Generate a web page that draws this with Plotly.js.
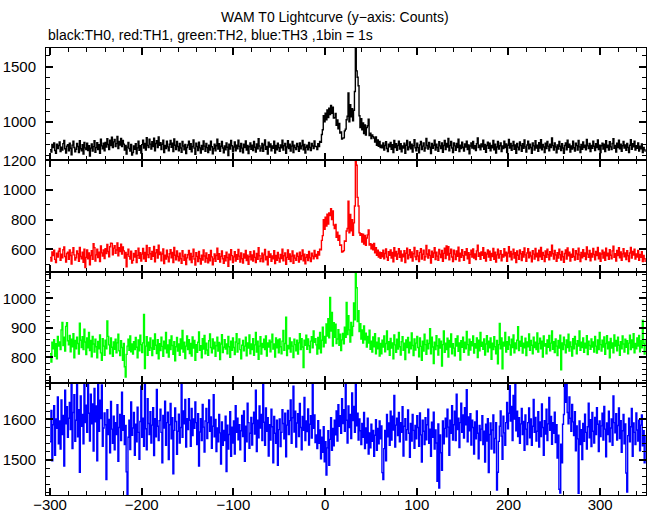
<!DOCTYPE html>
<html>
<head>
<meta charset="utf-8">
<script src="https://cdn.plot.ly/plotly-3.0.1.min.js"></script>
<style>html,body{margin:0;padding:0;background:#fff;}#chart{width:652px;height:515px;}</style>
</head>
<body>
<div id="chart"></div>
<script>
// Bin start time (s) and bin size
var tStart = -300;
var binSize = 1;

// TH0 (black) counts per 1 s bin, t = -300 .. 349
var th0 = [
752,731,798,770,812,744,718,801,763,789,
821,736,775,749,806,835,760,722,784,797,
741,810,765,706,793,828,772,733,755,807,
781,727,832,760,741,797,713,818,768,752,
810,745,788,694,766,804,739,779,832,728,
770,815,753,797,719,846,786,760,811,741,
817,776,851,798,754,838,790,864,772,822,
845,781,806,872,763,825,793,853,779,836,
802,748,790,712,775,818,762,739,799,703,
727,785,755,806,714,768,829,746,788,722,
797,838,766,808,748,859,790,771,846,802,
758,823,780,855,741,807,832,771,866,791,
815,752,800,838,725,789,762,829,777,742,
801,834,773,810,735,849,791,754,825,780,
742,808,767,729,826,785,751,798,716,772,
794,829,755,805,733,781,840,766,709,810,
780,745,820,768,722,790,752,831,784,738,
808,770,726,792,748,829,778,715,763,800,
741,787,847,758,806,737,782,825,767,724,
786,750,812,773,698,802,757,836,787,733,
776,822,741,793,760,838,783,735,807,766,
724,800,771,830,749,789,717,778,812,755,
791,745,825,774,731,804,760,851,785,740,
767,807,737,794,839,756,780,713,819,775,
803,742,786,764,829,722,789,751,811,769,
738,795,768,838,749,787,808,719,776,833,
763,802,740,784,826,725,791,770,752,808,
780,737,812,759,786,834,750,799,722,774,
793,751,818,771,743,808,785,762,831,779,
781,752,806,779,825,818,889,931,1058,1003,
1081,1022,1109,1041,1126,1068,1151,1079,1134,1037,
1040,1078,972,1019,941,988,901,912,847,856,
858,921,937,1021,1053,1262,1004,1158,1049,1121,
1012,1107,1276,1668,1462,1405,1328,1058,951,1031,
932,992,897,974,884,951,968,1026,878,901,
852,884,869,857,821,866,791,839,782,826,771,
793,768,812,749,790,824,762,735,801,778,
817,755,796,726,836,772,805,746,789,829,
758,806,732,785,767,810,719,792,834,751,
776,821,760,800,731,788,842,769,741,811,
770,723,795,826,752,784,813,740,767,852,
789,757,818,775,716,807,764,792,838,748,
801,772,738,823,786,761,812,728,790,835,
753,808,776,853,742,789,827,767,725,813,
786,747,808,770,846,736,792,762,819,773,
739,803,776,829,752,794,714,785,813,767,
826,759,788,745,806,858,771,793,750,804,
777,837,755,799,728,788,819,765,810,741,
790,768,834,750,801,722,776,825,758,787,
813,735,785,763,829,772,803,726,792,845,
766,808,747,787,826,756,795,718,809,775,
751,821,789,738,806,765,839,777,730,794,
828,759,801,771,720,812,786,748,832,767,
791,737,814,766,842,751,798,776,727,810,
762,825,784,741,802,771,857,788,749,812,
776,723,795,757,827,782,744,805,767,718,
789,812,751,837,773,801,730,786,758,828,
769,739,810,788,748,835,777,725,799,756,
822,770,792,750,843,786,761,809,735,790,
764,828,783,744,806,772,839,753,793,725,
787,811,757,802,734,833,771,791,748,824,
777,752,808,851,764,789,731,810,772,838,
760,801,738,787,826,766,795,746,808,772,
727,792,841,755,806,777,829,749,788,764,
812,740,784,759,803,726,772,750,733
];

// TH1 (red)
var th1 = [
546,521,583,558,594,533,512,575,549,588,
606,526,567,543,598,617,552,515,572,582,
533,597,559,502,580,612,563,529,544,590,
571,519,613,552,537,582,513,601,478,546,
597,537,576,497,559,591,534,638,612,522,
563,602,545,581,518,624,577,556,597,538,
605,572,633,586,550,618,642,641,564,609,
625,574,596,644,557,611,585,636,568,617,
590,541,580,483,566,602,553,535,588,508,
526,573,548,592,511,560,609,540,578,522,
568,606,537,580,519,627,564,545,611,571,
533,586,553,620,516,577,598,541,628,565,
582,524,569,603,505,561,535,594,550,517,
571,598,544,580,512,614,561,530,589,552,
523,574,537,506,592,555,526,566,498,543,
564,593,530,572,511,553,601,535,495,578,
553,518,586,538,501,561,529,597,556,514,
577,540,509,564,524,593,550,497,536,569,
520,559,609,533,571,515,553,589,537,506,
557,524,582,545,486,568,530,598,558,512,
550,585,521,565,534,600,555,515,576,537,
508,570,542,593,525,561,499,551,584,530,
563,521,589,546,511,572,534,612,557,518,
538,575,516,563,600,530,552,497,586,546,
570,520,556,537,592,505,559,527,580,541,
514,566,539,601,523,557,576,500,546,597,
534,570,518,555,589,507,561,541,526,575,
553,514,582,531,557,596,524,568,503,546,
564,525,586,543,518,574,555,536,593,552,
566,538,585,562,601,598,661,693,801,735,
817,758,838,771,846,829,874,801,859,764,
741,768,682,716,661,695,628,630,583,586,
592,657,654,724,741,926,712,836,725,801,
696,779,893,1201,1168,951,893,712,695,706,
650,703,636,694,628,677,698,731,630,639,
605,633,598,641,577,612,560,594,549,581,540,
578,551,594,536,572,603,548,526,585,561,
597,541,580,517,612,556,587,533,570,605,
546,589,522,568,550,592,511,574,609,537,
562,598,545,583,521,571,614,551,531,591,
556,518,580,604,535,567,595,528,551,627,
569,541,597,560,508,588,547,576,612,531,
582,555,527,599,568,545,593,520,573,608,
538,624,562,618,530,573,601,549,518,594,
568,532,590,553,615,522,574,546,598,558,
526,584,562,604,536,578,507,566,595,549,
603,541,570,531,590,629,553,576,534,583,
561,611,540,579,521,569,597,548,588,527,
572,552,606,534,582,515,563,601,542,568,
592,523,566,549,604,557,582,519,575,619,
550,587,530,569,601,541,578,511,589,561,
533,597,571,525,584,549,610,563,520,576,
604,543,582,556,516,592,568,535,607,551,
575,525,595,550,614,534,580,560,518,590,
547,601,566,530,584,555,628,571,535,593,
562,520,578,541,601,565,529,586,551,513,
572,596,535,610,557,581,521,568,546,603,
553,529,592,570,533,609,563,518,580,543,
598,554,576,532,616,568,546,593,523,572,
548,606,566,530,587,559,613,536,577,520,
569,594,541,582,526,609,557,574,533,598,
561,536,590,621,547,571,522,593,558,611,
543,583,527,570,604,550,577,531,592,557,
518,576,614,541,586,562,601,535,570,548,
593,527,566,546,584,518,560,537,515
];

// TH2 (green)
var th2 = [
812,784,851,829,860,803,846,795,871,838,
852,826,893,918,840,868,821,905,917,856,
842,874,819,861,836,880,798,857,829,868,
847,811,916,858,833,870,826,895,852,809,
866,832,884,823,857,802,871,845,818,861,
836,798,854,829,876,815,790,863,838,807,
858,829,923,871,842,812,866,834,803,852,
827,861,815,849,878,822,806,856,833,790,
847,768,733,810,838,861,824,872,819,845,
811,853,826,867,834,798,859,822,875,843,
816,849,945,762,838,870,807,851,824,866,
832,806,858,827,879,841,813,860,795,846,
823,868,837,803,855,829,884,815,842,801,
859,826,872,840,810,853,788,836,867,821,
845,807,862,829,891,818,851,796,838,872,
826,860,813,847,804,869,831,857,790,843,
817,851,886,824,839,798,863,828,874,812,
848,825,807,856,879,833,815,862,829,851,
803,839,868,821,850,792,845,877,816,834,
860,828,845,812,871,836,800,855,824,866,
833,809,852,880,818,847,862,826,795,841,
857,822,838,868,805,849,831,876,812,845,
826,863,807,842,884,818,855,793,838,870,
811,847,833,861,826,872,804,849,835,858,
819,852,878,828,845,801,866,832,859,815,
862,836,812,855,891,824,847,936,806,840,
829,866,818,852,838,799,861,843,822,858,
811,849,880,826,863,835,765,858,841,875,
827,862,839,816,855,870,832,889,851,863,
842,811,867,829,884,815,858,902,836,871,
848,913,872,931,866,1003,889,952,838,917,
868,912,847,862,894,841,878,823,859,881,
846,902,868,986,877,941,893,852,918,874,
905,984,927,1090,1036,921,958,887,914,862,
893,848,906,859,882,835,871,848,892,827,
855,818,869,836,880,812,851,829,866,804,847,
812,858,835,872,819,847,889,826,853,807,
864,831,849,795,876,842,817,861,828,884,
836,808,853,870,824,848,792,859,833,867,
815,851,829,883,840,806,862,825,848,871,
833,802,866,837,790,855,821,878,843,810,
858,829,847,897,812,868,835,779,851,826,
873,839,808,862,831,855,770,843,889,817,
848,826,865,801,857,835,879,812,846,831,
805,863,838,872,820,849,791,856,834,868,
817,851,829,888,843,808,861,825,853,839,
872,814,846,831,866,799,858,822,884,837,
851,827,862,808,845,873,819,855,832,866,
793,848,826,870,836,812,857,778,843,915,
829,866,761,851,838,884,818,853,827,869,
842,808,861,833,876,815,849,829,858,904,
823,855,837,871,814,848,832,865,806,852,
836,879,824,857,841,812,868,833,851,826,
883,818,847,865,829,855,801,872,838,846,
812,859,834,874,822,848,889,827,853,816,
862,838,806,857,831,875,758,849,826,868,
842,815,859,833,878,821,852,836,804,863,
829,871,845,812,856,838,889,824,851,833,
866,817,848,831,873,809,855,840,827,862,
835,852,818,871,838,814,859,826,884,843,
821,858,835,869,810,847,873,829,852,798,
864,831,849,815,876,838,857,822,868,841,
807,853,829,872,845,818,861,834,856,812,
848,875,826,859,833,880,815,847,829,866,
838,874,819,856,832,925,847,811,862
];

// TH3 (blue)
var th3 = [
1545,1622,1498,1587,1634,1512,1601,1578,1655,1540,
1596,1527,1648,1563,1610,1485,1672,1589,1631,1556,
1603,1642,1575,1690,1528,1617,1661,1546,1598,1695,
1557,1624,1470,1658,1583,1612,1540,1699,1592,1635,
1568,1701,1615,1547,1662,1589,1638,1522,1676,1594,
1633,1498,1710,1571,1647,1602,1685,1534,1579,1616,
1587,1452,1624,1563,1600,1518,1644,1576,1541,1608,
1525,1592,1563,1636,1497,1580,1612,1548,1667,1573,
1609,1538,1585,1471,1412,1556,1598,1526,1643,1561,
1579,1617,1512,1588,1545,1630,1568,1502,1595,1682,
1556,1603,1534,1708,1577,1525,1651,1590,1563,1619,
1542,1586,1629,1511,1602,1557,1674,1583,1548,1597,
1625,1568,1493,1610,1579,1645,1536,1592,1618,1501,
1587,1639,1552,1604,1466,1573,1628,1595,1514,1571,
1613,1542,1580,1697,1556,1621,1589,1649,1532,1602,
1575,1651,1598,1534,1627,1560,1601,1578,1643,1592,
1538,1614,1485,1569,1602,1548,1637,1581,1520,1596,
1627,1553,1592,1648,1571,1606,1529,1583,1661,1557,
1600,1521,1579,1545,1612,1567,1490,1594,1536,1573,
1548,1608,1472,1586,1527,1563,1619,1509,1581,1542,
1596,1515,1634,1568,1603,1550,1587,1525,1572,1610,
1558,1621,1497,1583,1545,1640,1592,1529,1566,1605,
1537,1590,1618,1564,1672,1521,1598,1555,1633,1579,
1612,1548,1686,1593,1536,1628,1571,1604,1510,1587,
1549,1625,1582,1493,1607,1566,1541,1598,1487,1575,
1601,1533,1568,1624,1590,1552,1615,1508,1586,1622,
1563,1597,1648,1541,1604,1682,1569,1620,1532,1591,
1614,1558,1639,1580,1525,1607,1573,1654,1548,1596,
1570,1626,1537,1588,1609,1554,1689,1578,1611,1543,
1562,1528,1597,1541,1574,1503,1556,1519,1582,1496,
1545,1463,1530,1572,1487,1551,1604,1524,1578,1535,
1598,1562,1621,1547,1636,1583,1609,1566,1651,1590,
1624,1571,1687,1598,1542,1633,1580,1612,1553,1665,
1597,1632,1568,1702,1584,1615,1549,1601,1572,1538,
1590,1556,1617,1528,1579,1542,1603,1515,1567,1530,
1588,1546,1573,1509,1561,1599,1524,1578,1540,1596,1552,
1584,1469,1452,1528,1573,1498,1612,1557,1591,1536,
1620,1549,1608,1574,1659,1532,1586,1603,1560,1617,
1545,1592,1568,1631,1510,1583,1602,1549,1575,1623,
1566,1507,1590,1547,1612,1573,1529,1585,1552,1609,
1580,1534,1616,1562,1495,1598,1571,1538,1604,1550,
1587,1625,1541,1576,1509,1593,1556,1618,1527,1574,
1542,1448,1589,1431,1562,1518,1475,1596,1540,1578,
1603,1557,1625,1581,1512,1598,1566,1634,1549,1587,
1620,1548,1662,1575,1603,1531,1592,1640,1568,1611,
1554,1629,1587,1673,1545,1606,1572,1614,1537,1598,
1580,1515,1594,1552,1621,1566,1503,1585,1548,1576,
1609,1538,1571,1495,1588,1547,1602,1469,1563,1591,
1527,1574,1611,1518,1553,1592,1426,1470,1546,1583,
1621,1559,1502,1608,1567,1536,1592,1642,1577,1615,
1683,1596,1632,1548,1659,1601,1695,1572,1620,1558,
1604,1541,1589,1627,1563,1595,1524,1611,1576,1538,
1592,1628,1555,1601,1536,1583,1649,1568,1605,1547,
1571,1619,1532,1594,1558,1638,1580,1512,1597,1564,
1625,1548,1589,1654,1573,1607,1539,1592,1566,1618,
1543,1587,1505,1561,1428,1419,1539,1493,1588,1612,
1695,1642,1702,1617,1589,1655,1603,1571,1637,1594,
1560,1619,1523,1584,1552,1418,1596,1538,1575,1501,
1590,1546,1613,1568,1527,1582,1640,1555,1599,1533,
1617,1571,1542,1605,1563,1629,1588,1521,1596,1558,
1584,1615,1549,1632,1576,1508,1591,1563,1620,1545,
1579,1601,1536,1658,1592,1567,1614,1549,1585,1628,
1553,1597,1519,1572,1612,1540,1589,1468,1421,1560,
1603,1545,1582,1627,1509,1591,1568,1538,1616,1574,
1547,1598,1523,1586,1611,1535,1572,1493,1560
];

var titleText = 'WAM T0 Lightcurve (y\u2212axis: Counts)';
var subText = 'black:TH0, red:TH1, green:TH2, blue:TH3 ,1bin = 1s';

function times(arr) {
  var t = [];
  for (var i = 0; i < arr.length; i++) t.push(tStart + i * binSize);
  return t;
}

var FONT = 'Liberation Sans, Arial, Helvetica, sans-serif';

var traces = [
  {x: times(th0), y: th0, xaxis: 'x4', yaxis: 'y', color: '#000000'},
  {x: times(th1), y: th1, xaxis: 'x3', yaxis: 'y2', color: '#ff0000'},
  {x: times(th2), y: th2, xaxis: 'x2', yaxis: 'y3', color: '#00ff00'},
  {x: times(th3), y: th3, xaxis: 'x', yaxis: 'y4', color: '#0000ff'}
].map(function (d) {
  return {x: d.x, y: d.y, xaxis: d.xaxis, yaxis: d.yaxis, type: 'scatter', mode: 'lines',
          line: {color: d.color, width: 1.4, shape: 'hv'}, hoverinfo: 'skip', showlegend: false};
});

function xAx(anchor, labels) {
  var a = {
    anchor: anchor, domain: [0, 1], range: [-304.4, 350], showgrid: false, zeroline: false,
    showline: true, linecolor: '#000', linewidth: 1, mirror: 'ticks',
    ticks: 'inside', tickcolor: '#000', ticklen: 7, tickwidth: 2, tick0: 0, dtick: 100,
    minor: {ticks: 'inside', dtick: 20, ticklen: 4, tickwidth: 1, tickcolor: '#000', showgrid: false},
    showticklabels: labels, tickfont: {family: FONT, size: 15, color: '#000'}, ticklabelstandoff: -4
  };
  if (anchor !== 'y4') a.matches = 'x';
  return a;
}

function yAx(anchor, dom, range, dtick, minorDtick) {
  return {
    anchor: anchor, domain: dom, range: range, showgrid: false, zeroline: false,
    showline: true, linecolor: '#000', linewidth: 1, mirror: 'ticks',
    ticks: 'inside', tickcolor: '#000', ticklen: 7, tickwidth: 2, tick0: 0, dtick: dtick,
    minor: {ticks: 'inside', dtick: minorDtick, ticklen: 4, tickwidth: 1, tickcolor: '#000', showgrid: false},
    tickfont: {family: FONT, size: 15, color: '#000'}, ticklabelstandoff: 6
  };
}

var layout = {
  width: 652, height: 515,
  margin: {l: 46, r: 6, t: 48, b: 20, pad: 0},
  paper_bgcolor: '#fff', plot_bgcolor: '#fff',
  showlegend: false,
  xaxis: xAx('y4', true),
  xaxis2: xAx('y3', false),
  xaxis3: xAx('y2', false),
  xaxis4: xAx('y', false),
  yaxis: yAx('x4', [0.75, 1], [661, 1668], 500, 100),
  yaxis2: yAx('x3', [0.5, 0.75], [451, 1205], 200, 100),
  yaxis3: yAx('x2', [0.25, 0.5], [712, 1091], 100, 20),
  yaxis4: yAx('x', [0, 0.25], [1414, 1689], 100, 20),
  annotations: [
    {text: titleText, xref: 'paper', yref: 'paper', x: 0.4817, y: 1 + 31 / 447,
     xanchor: 'center', yanchor: 'middle', showarrow: false,
     font: {family: FONT, size: 14, color: '#000'}},
    {text: subText, xref: 'paper', yref: 'paper', x: 0, y: 1 + 13 / 447,
     xanchor: 'left', yanchor: 'middle', showarrow: false,
     font: {family: FONT, size: 14, color: '#000'}}
  ]
};

Plotly.newPlot('chart', traces, layout, {staticPlot: true, displayModeBar: false});
</script>
</body>
</html>
